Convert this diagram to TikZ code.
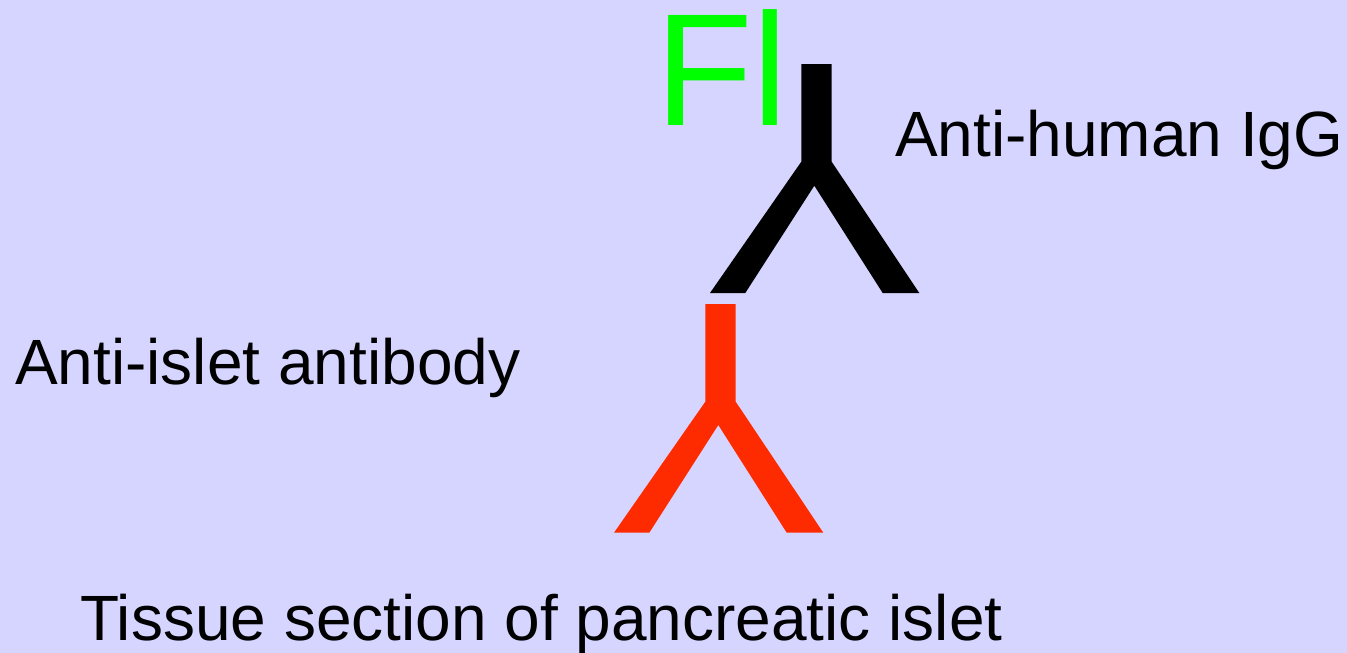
\documentclass[tikz,border=0pt]{standalone}
\usepackage{fontspec}
\setmainfont{Liberation Sans}
\definecolor{bgc}{RGB}{213,213,255}
\definecolor{redc}{RGB}{255,43,0}
\definecolor{greenc}{RGB}{0,255,0}
\tikzset{
  x=1pt,y=-1pt,
  lbl/.style={inner sep=0pt,anchor=base west,font=\fontsize{64}{64}\selectfont,text=black},
  fl/.style={inner sep=0pt,anchor=base west,font=\fontsize{160}{160}\selectfont,text=greenc}
}
\begin{document}
\begin{tikzpicture}
\fill[bgc] (0,0) rectangle (1347,653);
\useasboundingbox (0,0) rectangle (1347,653);
\fill[black] (801.3,64) -- (831.7,64) -- (831.7,161.7) -- (919.3,293) -- (882.7,293) -- (814.3,185.7) -- (745.3,293) -- (710,293) -- (801.3,161.7) -- cycle;
\fill[redc] (705.3,304) -- (735.7,304) -- (735.7,401.7) -- (823.3,532.7) -- (786.7,532.7) -- (718.3,425) -- (649.3,532.7) -- (614,532.7) -- (705.3,401.7) -- cycle;
\node[fl] (fl) at (655,125) {Fl};
\node[lbl] (igg) at (895,156) {Anti-human IgG};
\node[lbl] (islet) at (15,384) {Anti-islet antibody};
\node[lbl] (tissue) at (80,640) {Tissue section of pancreatic islet};
\end{tikzpicture}
\end{document}
